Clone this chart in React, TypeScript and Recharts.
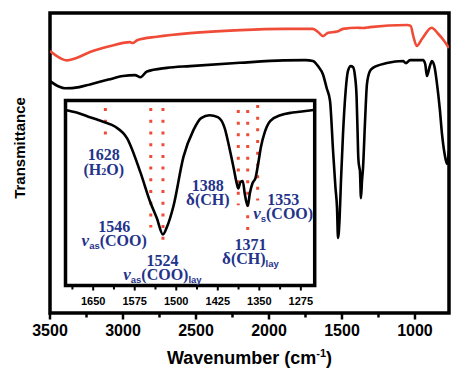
import { LineChart, Line, XAxis, YAxis, ReferenceArea, ReferenceLine, ReferenceDot } from "recharts"

// main spectra: wavenumber (cm-1) and transmittance (a.u.)
const redWn = [3500, 3420, 3384, 3330, 3226, 3100, 2952, 2935, 2900, 2767, 2541, 2199, 1900, 1700, 1660, 1630, 1596, 1534, 1493, 1397, 1356, 1308, 1054, 1030, 1010, 988, 950, 886, 840, 800, 767]
const redT = [87.3, 84.7, 84.2, 84.8, 87, 88.8, 90.3, 90, 91, 92.1, 93.3, 94.3, 94.7, 94.7, 93.5, 92.3, 93.4, 93.8, 94.7, 95.1, 95, 95.3, 96, 95.7, 92, 89, 91.5, 95.1, 93, 90.7, 88.3]

const blackWn = [3500, 3440, 3397, 3300, 3226, 3100, 3000, 2918, 2880, 2836, 2700, 2541, 2199, 1900, 1750, 1699, 1660, 1630, 1605, 1582, 1561, 1545, 1534, 1527, 1516, 1507, 1493, 1475, 1459, 1440, 1425, 1411, 1400, 1393, 1388, 1381, 1377, 1370, 1363, 1356, 1342, 1329, 1310, 1288, 1192, 1082, 1062, 1034, 945, 930, 918, 900, 884, 866, 849, 830, 815, 797, 781, 767]
const blackT = [77.3, 75.5, 74.9, 75.3, 76.2, 77.8, 79, 79.3, 78.6, 80.5, 81.7, 82.3, 83.4, 84.2, 84.3, 84, 82, 79.5, 75, 70.7, 54, 42, 35, 25, 32, 44, 59.7, 74, 80.7, 82.3, 82, 79, 72, 60, 51.5, 48.5, 47.3, 38.3, 44, 48.3, 64, 76.3, 80.5, 81.7, 83.3, 84, 83.3, 84.3, 84.3, 83, 79, 82, 84, 82, 76.3, 68, 59.7, 53, 49.7, 54]

const mainTicks = [3500, 3250, 3000, 2750, 2500, 2250, 2000, 1750, 1500, 1250, 1000]
const mainLabels = [3500, 3000, 2500, 2000, 1500, 1000]

// inset: 1700-1250 cm-1 region of the black spectrum
const insetWn = [1700, 1680, 1660, 1632, 1610, 1589, 1565, 1547, 1535, 1524, 1517, 1505, 1487, 1469, 1455, 1440, 1425, 1413, 1403, 1396, 1391, 1388, 1384, 1380, 1376, 1371, 1367, 1362, 1357, 1352, 1347, 1340, 1330, 1312, 1290, 1270, 1252]
const insetT = [94.9, 93.5, 91.4, 88.5, 85.8, 79.7, 61.4, 45.1, 36.3, 27.6, 31.5, 43, 69.5, 84, 90.5, 92, 91, 85.5, 73, 63, 55.5, 52.5, 56, 56.5, 49, 43, 50, 55.5, 58, 66, 75, 83, 89, 92, 93.5, 94.2, 94.9]

const insetTicks = [1687.5, 1650, 1612.5, 1575, 1537.5, 1500, 1462.5, 1425, 1387.5, 1350, 1312.5, 1275]
const insetLabels = [1650, 1575, 1500, 1425, 1350, 1275]

// dotted peak markers
const peakWn = [1628, 1546, 1524, 1388, 1371, 1353]
const peakTop = [95.9, 95.9, 95.9, 94.9, 94.9, 97.6]
const peakBottom = [79.7, 31.4, 22.8, 43.4, 28.7, 46]

// peak annotations: number, then assignment (symbol, subscript, body, trailing subscript)
const annos = [
  { wn: 1631, t: 67.8, num: "1628", kind: "h2o" },
  { wn: 1612, t: 28.7, num: "1546", sym: "ν", sub: "as", body: "(COO)", tail: "" },
  { wn: 1525, t: 10.8, num: "1524", sym: "ν", sub: "as", body: "(COO)", tail: "lay" },
  { wn: 1443, t: 50.9, num: "1388", sym: "δ", sub: "", body: "(CH)", tail: "" },
  { wn: 1366, t: 19, num: "1371", sym: "δ", sub: "", body: "(CH)", tail: "lay" },
  { wn: 1307, t: 43.4, num: "1353", sym: "ν", sub: "s", body: "(COO)", tail: "" },
]

const redData = redWn.map((wn, i) => ({ wn, t: redT[i] }))
const blackData = blackWn.map((wn, i) => ({ wn, t: blackT[i] }))
const insetData = insetWn.map((wn, i) => ({ wn, t: insetT[i] }))

const SANS = "'Liberation Sans', Arial, sans-serif"
const SERIF = "'Liberation Serif', 'Times New Roman', serif"
const NAVY = "#24338a"
const RED = "#f04b37"

function MainTick(props: any) {
  const { x, y, payload } = props
  const major = mainLabels.includes(payload.value)
  return (
    <g>
      <line x1={x} x2={x} y1={y} y2={y + (major ? 6.5 : 4.5)} stroke="#000" strokeWidth={2.5} />
      {major && (
        <text x={x} y={y + 23} textAnchor="middle" fontFamily={SANS} fontWeight="bold" fontSize={16} fill="#000">
          {payload.value}
        </text>
      )}
    </g>
  )
}

function InsetTick(props: any) {
  const { x, y, payload } = props
  const major = insetLabels.includes(payload.value)
  return (
    <g>
      <line x1={x} x2={x} y1={y} y2={y + (major ? 5 : 4)} stroke="#000" strokeWidth={2} />
      {major && (
        <text x={x} y={y + 19} textAnchor="middle" fontFamily={SANS} fontWeight="bold" fontSize={11} fill="#000">
          {payload.value}
        </text>
      )}
    </g>
  )
}

function annoLabel(a: any) {
  return (p: any) => {
    const vb = p.viewBox || {}
    const x = vb.x + (vb.width || 0) / 2
    const y = vb.y + (vb.height || 0) / 2
    const common = { textAnchor: "middle" as const, fontFamily: SERIF, fontWeight: "bold", fontSize: 16, fill: NAVY }
    return (
      <g>
        <text x={x} y={y} {...common}>{a.num}</text>
        {a.kind === "h2o" ? (
          <text x={x} y={y + 15} {...common}>
            (H<tspan fontSize={10}>2</tspan>O)
          </text>
        ) : (
          <text x={x} y={y + 14} {...common}>
            <tspan fontStyle={a.sym === "ν" ? "italic" : "normal"} fontSize={17}>{a.sym}</tspan>
            {a.sub && <tspan fontFamily={SANS} fontSize={9.5} dy={3}>{a.sub}</tspan>}
            <tspan dy={a.sub ? -3 : 0}>{a.body}</tspan>
            {a.tail && <tspan fontFamily={SANS} fontSize={9.5} dy={3}>{a.tail}</tspan>}
          </text>
        )}
      </g>
    )
  }
}

export default function App() {
  return (
    <div style={{ position: "relative", width: 451, height: 368, background: "#fff" }}>
      <style>{"body{margin:0}"}</style>
      <LineChart width={451} height={368} margin={{ top: 13, right: 2, bottom: 0, left: 0 }}>
        <XAxis
          dataKey="wn"
          type="number"
          domain={[767, 3500]}
          reversed
          allowDataOverflow
          ticks={mainTicks}
          interval={0}
          tick={<MainTick />}
          tickSize={0}
          tickMargin={0}
          tickLine={false}
          axisLine={false}
          height={55}
          label={{
            content: (p: any) => {
              const vb = p.viewBox
              return (
                <text x={vb.x + vb.width / 2} y={vb.y + 51} textAnchor="middle" fontFamily={SANS} fontWeight="bold" fontSize={18} fill="#000">
                  Wavenumber (cm<tspan dy={-7} fontSize={11}>-1</tspan><tspan dy={7}>)</tspan>
                </text>
              )
            },
          }}
        />
        <YAxis
          type="number"
          domain={[0, 100]}
          allowDataOverflow
          width={50}
          tick={false}
          tickLine={false}
          axisLine={false}
          label={{
            content: (p: any) => {
              const vb = p.viewBox
              const cy = vb.y + vb.height / 2 - 15
              return (
                <text transform="rotate(-90)" x={-cy} y={25} textAnchor="middle" fontFamily={SANS} fontWeight="bold" fontSize={15} fill="#000">
                  Transmittance
                </text>
              )
            },
          }}
        />
        <Line data={redData} dataKey="t" type="monotone" stroke={RED} strokeWidth={2.6} dot={false} isAnimationActive={false} />
        <Line data={blackData} dataKey="t" type="monotone" stroke="#000" strokeWidth={2.6} dot={false} isAnimationActive={false} />
        <ReferenceArea x1={767} x2={3500} y1={0} y2={100} fill="none" stroke="#000" strokeWidth={3.5} ifOverflow="visible" />
      </LineChart>

      <div style={{ position: "absolute", left: 63, top: 98 }}>
        <LineChart width={254} height={212} margin={{ top: 2.5, right: 2.3, bottom: 0, left: 2.5 }}>
          <XAxis
            dataKey="wn"
            type="number"
            domain={[1250, 1700]}
            reversed
            allowDataOverflow
            ticks={insetTicks}
            interval={0}
            tick={<InsetTick />}
            tickSize={0}
            tickMargin={0}
            tickLine={false}
            axisLine={false}
            height={24.5}
          />
          <YAxis type="number" domain={[0, 100]} allowDataOverflow hide />
          <ReferenceArea x1={1250} x2={1700} y1={0} y2={100} fill="#fff" stroke="none" ifOverflow="visible" />
          {peakWn.map((wn, i) => (
            <ReferenceLine
              key={wn}
              segment={[{ x: wn, y: peakTop[i] }, { x: wn, y: peakBottom[i] }]}
              stroke={RED}
              strokeWidth={3}
              strokeDasharray="3 8.7"
              ifOverflow="visible"
            />
          ))}
          <Line data={insetData} dataKey="t" type="monotone" stroke="#000" strokeWidth={2.6} dot={false} isAnimationActive={false} />
          {annos.map((a) => (
            <ReferenceDot key={a.num} x={a.wn} y={a.t} r={0} fill="none" stroke="none" label={annoLabel(a)} />
          ))}
          <ReferenceArea x1={1250} x2={1700} y1={0} y2={100} fill="none" stroke="#000" strokeWidth={3.5} ifOverflow="visible" />
        </LineChart>
      </div>
    </div>
  )
}
